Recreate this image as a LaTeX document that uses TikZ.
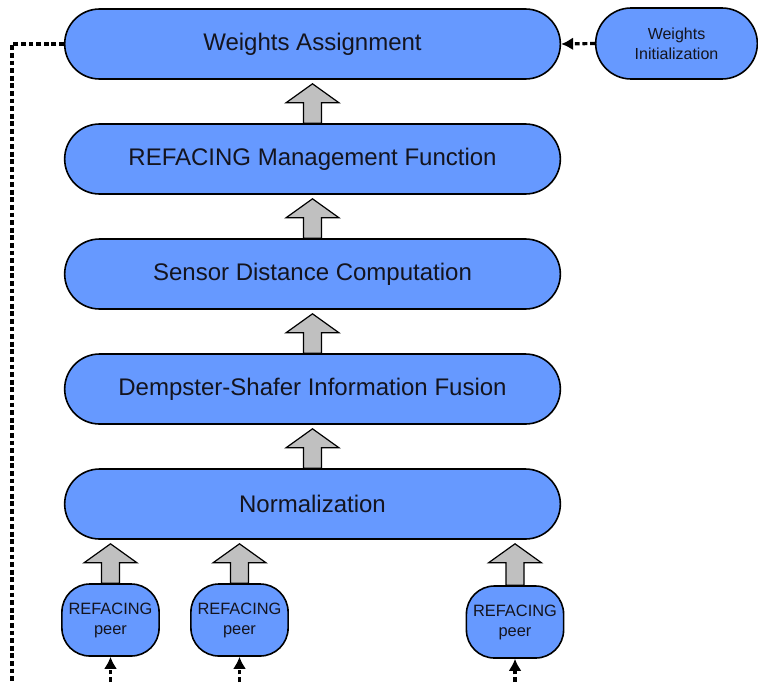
\documentclass[tikz,border=0pt]{standalone}
\usepackage{fontspec}
\setmainfont{Liberation Sans}
\usetikzlibrary{calc,shapes.misc,arrows.meta}
\definecolor{boxblue}{RGB}{102,153,255}
\definecolor{arrowgray}{RGB}{192,192,192}
\definecolor{textdark}{RGB}{20,20,30}
% upward block arrow from the top of #1 to the bottom of #2
\newcommand\UpArrow[2]{%
  \draw[block arrow] let \p1=(#1.north), \p2=(#2.south) in
    (\x1-4.5pt,\y1) -- (\x1-4.5pt,\y2-11.5pt) -- (\x1-13.25pt,\y2-11.5pt)
    -- (\x1,\y2-2pt) -- (\x1+13.25pt,\y2-11.5pt) -- (\x1+4.5pt,\y2-11.5pt)
    -- (\x1+4.5pt,\y1) -- cycle;
}
\tikzset{%
  >={Latex[length=6pt,width=6.5pt]}, % solid tips on dashed lines
  layer box/.style={rounded rectangle,draw=black,fill=boxblue,line width=0.8pt,
    minimum width=254.5pt,minimum height=35pt,font=\fontsize{12}{14}\selectfont,
    text=textdark},%
  init box/.style={rounded rectangle,draw=black,fill=boxblue,line width=0.8pt,
    minimum width=87.5pt,minimum height=35.5pt,align=center,
    font=\fontsize{8}{10}\selectfont,text=textdark},%
  peer box/.style={rectangle,rounded corners=14pt,draw=black,fill=boxblue,
    line width=0.8pt,minimum width=47.5pt,minimum height=36pt,align=center,
    font=\fontsize{8.2}{10}\selectfont,text=textdark},%
  block arrow/.style={draw=black,fill=arrowgray,line width=0.6pt,line join=miter},%
  feedback/.style={line width=1.6pt,dash pattern=on 2.4pt off 1.4pt}%
}
\begin{document}
\begin{tikzpicture}[x=0.5pt,y=0.5pt]

%frame
\useasboundingbox (0,0) rectangle (758,682);
\def\cx{312.5} % centre of the layer stack
\def\dy{115} % layer spacing

%layers
\node[layer box] (wa) at (\cx,638) {Weights Assignment};
\node[layer box] (rmf) at (\cx,638-\dy) {REFACING Management Function};
\node[layer box] (sdc) at (\cx,638-2*\dy) {Sensor Distance Computation};
\node[layer box] (dsf) at (\cx,638-3*\dy) {Dempster-Shafer Information Fusion};
\node[layer box] (norm) at (\cx,638-4*\dy) {Normalization};
\node[init box] (wi) at (676.5,638.5) {Weights\\Initialization};

%peers
\node[peer box] (peerA) at (110.5,62) {REFACING\\peer};
\node[peer box] (peerB) at (239.5,62) {REFACING\\peer};
\node[peer box] (peerC) at (515,60) {REFACING\\peer};

%block arrows
\UpArrow{norm}{dsf}
\UpArrow{dsf}{sdc}
\UpArrow{sdc}{rmf}
\UpArrow{rmf}{wa}
\UpArrow{peerA}{norm}
\UpArrow{peerB}{norm}
\UpArrow{peerC}{norm}

%dashed links
\draw[feedback,->] (wi.west) -- (wa.east);
\coordinate (fbEnd) at (12,0);
\draw[feedback] (wa.west) -| (fbEnd);
\coordinate (inA) at (110.5,0);
\coordinate (inB) at (239.5,0);
\coordinate (inC) at (515,0);
\draw[feedback,->] (inA) -- (peerA.south);
\draw[feedback,->] (inB) -- (peerB.south);
\draw[feedback,->] (inC) -- (peerC.south);

\end{tikzpicture}
\end{document}
